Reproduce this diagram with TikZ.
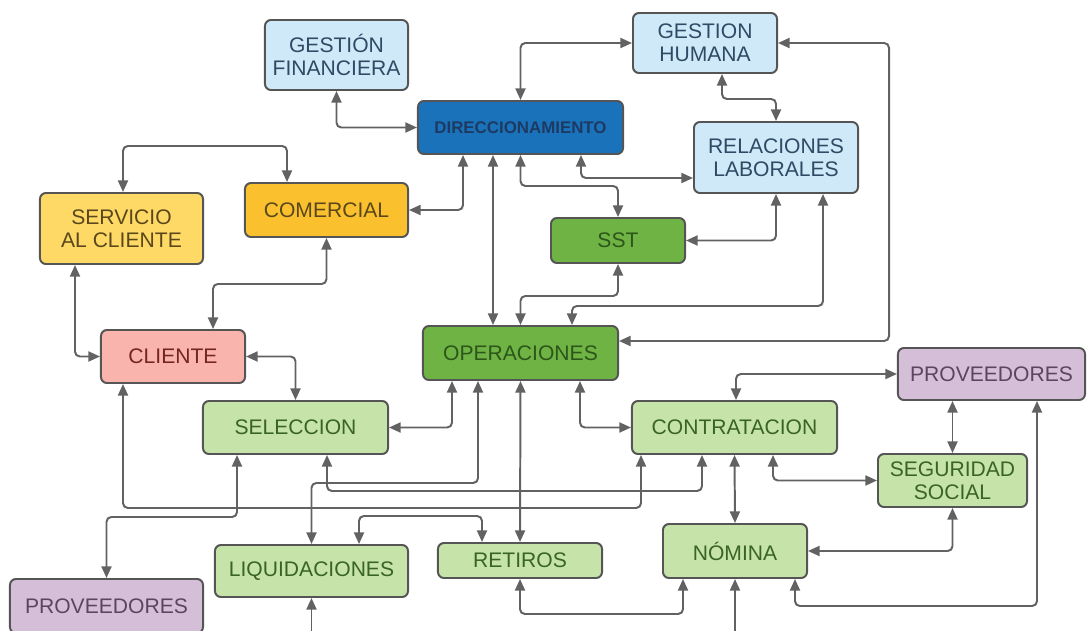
\documentclass[tikz,border=0pt]{standalone}
\usepackage{fontspec}
\setmainfont{Liberation Sans}
\usepackage{tikz}
\usetikzlibrary{arrows, arrows.meta}
\usetikzlibrary{calc,shapes}

\definecolor{lineg}{HTML}{626262}
\definecolor{edgeg}{HTML}{555555}
\definecolor{lblue}{HTML}{D0E9F8}
\definecolor{dblue}{HTML}{1A73BA}
\definecolor{lyellow}{HTML}{FFD966}
\definecolor{dyellow}{HTML}{FBC02D}
\definecolor{pink}{HTML}{F9B4AD}
\definecolor{dgreen}{HTML}{6FB344}
\definecolor{lgreen}{HTML}{C6E4A9}
\definecolor{lpurple}{HTML}{D5BFD8}
\definecolor{areatext}{HTML}{2F4A64}
\definecolor{headtext}{HTML}{1D3A62}
\definecolor{yelltext}{HTML}{5A481C}
\definecolor{clitext}{HTML}{742424}
\definecolor{coretext}{HTML}{2C561A}
\definecolor{tasktext}{HTML}{3A6427}
\definecolor{suptext}{HTML}{5B4660}

\tikzstyle{procbox}=[draw=edgeg, line width=1.4pt, rounded corners=1.5mm, inner sep=0pt, align=center, font=\fontsize{15}{16.5}\selectfont]
\tikzstyle{link}=[arrows={{Triangle[length=2.9mm,width=2.5mm]}-{Triangle[length=2.9mm,width=2.5mm]}}, draw=lineg, line width=1.4pt, rounded corners=1.2mm]
\tikzstyle{oneway}=[arrows={-{Triangle[length=2.9mm,width=2.5mm]}}, draw=lineg, line width=1.4pt]
\tikzset{
    area/.style={procbox, fill=lblue, text=areatext},
    head/.style={procbox, fill=dblue, text=headtext, font=\bfseries\fontsize{12}{14}\selectfont},
    care/.style={procbox, fill=lyellow, text=yelltext},
    sales/.style={procbox, fill=dyellow, text=yelltext},
    client/.style={procbox, fill=pink, text=clitext},
    core/.style={procbox, fill=dgreen, text=coretext},
    task/.style={procbox, fill=lgreen, text=tasktext},
    supplier/.style={procbox, fill=lpurple, text=suptext}
}

\begin{document}
\begin{tikzpicture}[x=0.025cm, y=-0.025cm]
  \useasboundingbox (0,0) rectangle (1087,631);

  % top: management
  \node[area, minimum width=3.575cm, minimum height=1.75cm] (gf) at (336.5,55) {GESTIÓN\\FINANCIERA};
  \node[head, minimum width=5.125cm, minimum height=1.325cm] (dir) at (520.5,127.5) {DIRECCIONAMIENTO};
  \node[area, minimum width=3.6cm, minimum height=1.5cm] (gh) at (705,43) {GESTION\\HUMANA};
  \node[area, minimum width=4.1cm, minimum height=1.775cm] (rl) at (776,157.5) {RELACIONES\\LABORALES};
  \node[care, minimum width=4.075cm, minimum height=1.775cm] (serv) at (121.5,228.5) {SERVICIO\\AL CLIENTE};
  \node[sales, minimum width=4.075cm, minimum height=1.35cm] (com) at (326.5,210) {COMERCIAL};
  \node[core, minimum width=3.35cm, minimum height=1.125cm] (sst) at (618,240.5) {SST};

  % middle
  \node[client, minimum width=3.6cm, minimum height=1.325cm] (cli) at (173,356.5) {CLIENTE};
  \node[core, minimum width=4.875cm, minimum height=1.35cm] (ope) at (520.5,353) {OPERACIONES};
  \node[task, minimum width=4.625cm, minimum height=1.325cm] (sel) at (295.5,427.5) {SELECCION};
  \node[task, minimum width=5.125cm, minimum height=1.325cm] (con) at (734.5,427.5) {CONTRATACION};
  \node[supplier, minimum width=4.675cm, minimum height=1.3cm] (provR) at (991.5,374) {PROVEEDORES};
  \node[task, minimum width=3.725cm, minimum height=1.325cm] (seg) at (952.5,480.5) {SEGURIDAD\\SOCIAL};

  % bottom
  \node[task, minimum width=3.6cm, minimum height=1.35cm] (nom) at (735,551) {NÓMINA};
  \node[task, minimum width=4.1cm, minimum height=0.875cm] (ret) at (520,560.5) {RETIROS};
  \node[task, minimum width=4.825cm, minimum height=1.3cm] (liq) at (311.5,571) {LIQUIDACIONES};
  \node[supplier, minimum width=4.825cm, minimum height=1.35cm] (provL) at (106.5,606) {PROVEEDORES};

  \coordinate (liqin) at (311.5,640);
  \coordinate (nomin) at (735,640);

  % management links
  \draw[link] (gf.south) |- (dir.west);
  \draw[link] (dir.north) |- (gh.west);
  \draw[link] ($(gh.south)+(17,0)$) -- ++(0,25) -| (rl.north);
  \draw[link] (gh.east) -| ($(ope.east)+(270,-12)$) -- ($(ope.east)+(0,-12)$);
  \draw[link] ($(dir.south)+(-57.5,0)$) |- (com.east);
  \draw[link] ($(dir.south)+(-27.5,0)$) -- ($(ope.north)+(-27.5,0)$);
  \draw[link] (dir.south) -- ++(0,31) -| (sst.north);
  \draw[link] ($(dir.south)+(60.5,0)$) |- ($(rl.west)+(0,20.5)$);
  \draw[link] (sst.east) -| (rl.south);
  \draw[link] (sst.south) -- ++(0,32) -| (ope.north);
  \draw[link] ($(rl.south)+(47,0)$) -- ++(0,112) -| ($(ope.north)+(51.5,0)$);

  % client side
  \draw[link] ($(serv.north)+(1.5,0)$) -- ++(0,-46) -| ($(com.north)+(-39.5,0)$);
  \draw[link] (com.south) -- ++(0,46) -| ($(cli.north)+(40,0)$);
  \draw[link] ($(serv.south)+(-46.5,0)$) |- (cli.west);
  \draw[link] (cli.east) -| (sel.north);

  % operations
  \draw[link] ($(ope.south)+(-68.5,0)$) |- (sel.east);
  \draw[link] ($(ope.south)+(59.5,0)$) |- (con.west);
  \draw[link] (ope.south) -- (ret.north);
  \draw[link] ($(ope.south)+(-42.5,0)$) -- ++(0,102) -| (liq.north);
  \draw[link] ($(sel.south)+(31.5,0)$) -- ++(0,36) -| ($(con.south)+(-32.5,0)$);
  \draw[link] ($(cli.south)+(-50,0)$) -- ++(0,124) -| ($(con.south)+(-93.5,0)$);
  \draw[link] ($(sel.south)+(-58.5,0)$) -- ++(0,62) -| (provL.north);
  \draw[link] ($(liq.north)+(47.5,0)$) -- ++(0,-28) -| ($(ret.north)+(-38,0)$);
  \draw[oneway] (liqin) -- (liq.south);
  \draw[link] (ret.south) -- ++(0,35) -| ($(nom.south)+(-52,0)$);
  \draw[oneway] (nomin) -- (nom.south);

  % contracting
  \draw[link] (con.south) -- (nom.north);
  \draw[link] ($(con.north)+(1.5,0)$) |- (provR.west);
  \draw[link] ($(con.south)+(38.5,0)$) |- (seg.west);
  \draw[link] (seg.north |- provR.south) -- (seg.north);
  \draw[link] (seg.south) |- (nom.east);
  \draw[link] ($(provR.south)+(45.5,0)$) -- ++(0,205) -| ($(nom.south)+(60,0)$);
\end{tikzpicture}
\end{document}
